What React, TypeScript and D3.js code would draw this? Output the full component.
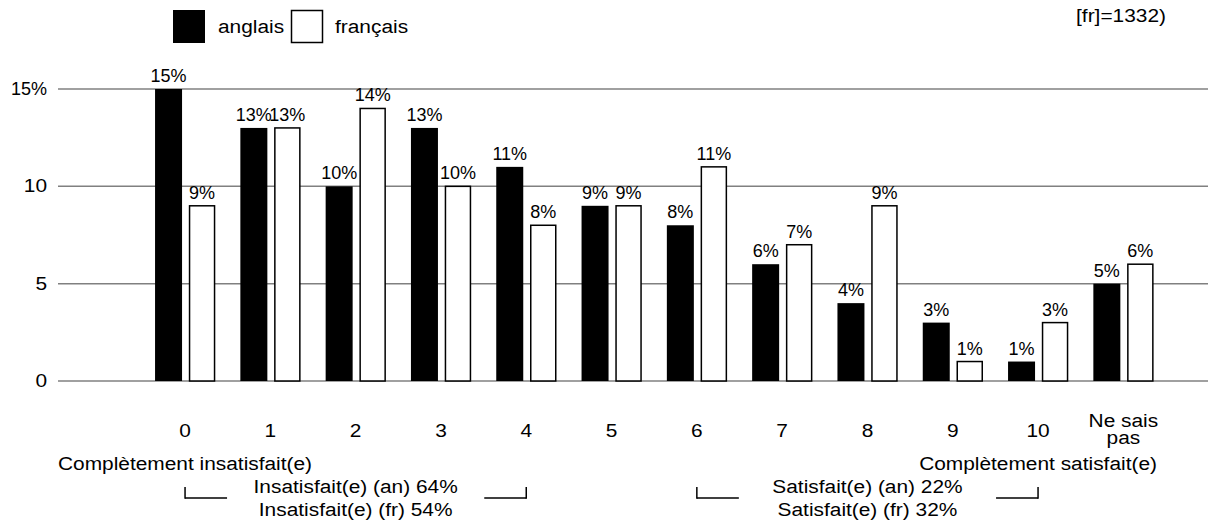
import React from "react";
import * as d3 from "d3";

const categories = ["0", "1", "2", "3", "4", "5", "6", "7", "8", "9", "10", "Ne sais|pas"];
const anglais = [15, 13, 10, 13, 11, 9, 8, 6, 4, 3, 1, 5];
const francais = [9, 13, 14, 10, 8, 9, 11, 7, 9, 1, 3, 6];
const yTicks = [0, 5, 10, 15];
const yTickLabels = ["0", "5", "10", "15%"];
const seriesNames = ["anglais", "français"];

const W = 1208;
const H = 523;
const FONT = "'Liberation Sans', Arial, Helvetica, sans-serif";
const FS = 18;
const SX = 1.16;

function T(props: {
  x: number;
  y: number;
  anchor?: "start" | "middle" | "end";
  sx?: number;
  children: React.ReactNode;
}) {
  const s = props.sx ?? SX;
  return (
    <text
      transform={`translate(${props.x},${props.y}) scale(${s},1)`}
      fontSize={FS}
      textAnchor={props.anchor || "start"}
      fill="#000"
    >
      {props.children}
    </text>
  );
}

export default function App() {
  const x = d3.scaleBand<string>().domain(categories).range([142.4, 1166]).padding(0);
  const y = d3.scaleLinear().domain([0, 15]).range([381, 89]);
  const bw = x.bandwidth();
  const cx = (c: string) => (x(c) as number) + bw / 2;

  const bracket = (x1: number, x2: number, yb: number, side: "left" | "right") => {
    const xv = side === "left" ? x1 : x2;
    return (
      <g>
        <line x1={x1} x2={x2} y1={yb} y2={yb} stroke="#000" strokeWidth={1.5} />
        <line x1={xv} x2={xv} y1={yb + 0.75} y2={yb - 11} stroke="#000" strokeWidth={1.5} />
      </g>
    );
  };

  return (
    <svg
      width={W}
      height={H}
      style={{ position: "absolute", left: 0, top: 0, background: "#fff" }}
      fontFamily={FONT}
    >
      <rect width={W} height={H} fill="#fff" />
      {/* legend */}
      <rect x={173.5} y={10.5} width={31} height={32} fill="#000" stroke="#000" strokeWidth={1} />
      <T x={218} y={33}>{seriesNames[0]}</T>
      <rect x={291.5} y={10.5} width={31} height={32} fill="#fff" stroke="#000" strokeWidth={1.5} />
      <T x={335} y={33}>{seriesNames[1]}</T>

      {/* top right note */}
      <T x={1166} y={22} anchor="end">[fr]=1332)</T>

      {/* gridlines */}
      {yTicks.map((t, i) => (
        <g key={t}>
          <line x1={58} x2={W} y1={y(t)} y2={y(t)} stroke="#808080" strokeWidth={1.5} />
          <T x={47} y={y(t) + 6} anchor="end" sx={yTickLabels[i].includes("%") ? 1 : SX}>
            {yTickLabels[i]}
          </T>
        </g>
      ))}

      {/* bars */}
      {categories.map((c, i) => {
        const c0 = cx(c);
        const a = anglais[i];
        const f = francais[i];
        return (
          <g key={c}>
            <rect x={c0 - 30} y={y(a)} width={27} height={y(0) - y(a)} fill="#000" />
            <rect
              x={c0 + 4.5}
              y={y(f)}
              width={25}
              height={y(0) - y(f)}
              fill="#fff"
              stroke="#000"
              strokeWidth={1.5}
            />
            <T x={c0 - 16.5} y={y(a) - 7} anchor="middle" sx={1}>{a}%</T>
            <T x={c0 + 17} y={y(f) - 7} anchor="middle" sx={1}>{f}%</T>
            {c.includes("|") ? (
              c.split("|").map((p, j) => (
                <T key={j} x={c0} y={427 + j * 17} anchor="middle">{p}</T>
              ))
            ) : (
              <T x={c0} y={437} anchor="middle">{c}</T>
            )}
          </g>
        );
      })}

      {/* annotations */}
      <T x={cx("0")} y={470} anchor="middle">Complètement insatisfait(e)</T>
      <T x={cx("10")} y={470} anchor="middle">Complètement satisfait(e)</T>

      {bracket(cx("0"), cx("0") + 42, 498, "left")}
      {bracket(cx("4") - 42, cx("4"), 498, "right")}
      <T x={(cx("0") + cx("4")) / 2} y={493} anchor="middle">Insatisfait(e) (an) 64%</T>
      <T x={(cx("0") + cx("4")) / 2} y={516} anchor="middle">Insatisfait(e) (fr) 54%</T>

      {bracket(cx("6"), cx("6") + 42, 498, "left")}
      {bracket(cx("10") - 42, cx("10"), 498, "right")}
      <T x={(cx("6") + cx("10")) / 2} y={493} anchor="middle">Satisfait(e) (an) 22%</T>
      <T x={(cx("6") + cx("10")) / 2} y={516} anchor="middle">Satisfait(e) (fr) 32%</T>
    </svg>
  );
}
